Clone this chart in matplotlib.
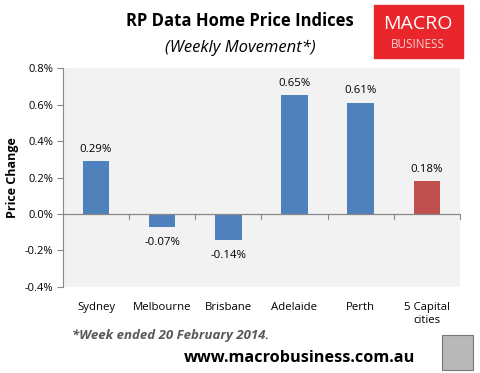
import matplotlib
matplotlib.use("Agg")
import matplotlib.pyplot as plt
from matplotlib.patches import Rectangle
from matplotlib.ticker import FuncFormatter

cities = ["Sydney", "Melbourne", "Brisbane", "Adelaide", "Perth", "5 Capital\ncities"]
changes = [0.29, -0.07, -0.14, 0.65, 0.61, 0.18]
labels = ["0.29%", "-0.07%", "-0.14%", "0.65%", "0.61%", "0.18%"]
colors = ["#4f81bd"] * 5 + ["#c0504d"]

plt.rcParams["font.family"] = ["Open Sans", "DejaVu Sans"]

fig = plt.figure(figsize=(4.8, 3.73), dpi=100)
ax = fig.add_axes([0.131, 0.2306, 0.827, 0.587])
ax.set_facecolor("#f2f2f2")

x = list(range(len(cities)))
ax.bar(x, changes, width=0.4, color=colors, zorder=2)

for xi, v, lab in zip(x, changes, labels):
    if v >= 0:
        ax.text(xi, v + 0.065, lab, ha="center", va="center", fontsize=8.2)
    else:
        ax.text(xi, v - 0.088, lab, ha="center", va="center", fontsize=8.2)

ax.set_xlim(-0.5, 5.5)
ax.set_ylim(-0.4, 0.8)
ax.set_yticks([-0.4, -0.2, 0.0, 0.2, 0.4, 0.6, 0.8])
ax.yaxis.set_major_formatter(FuncFormatter(lambda v, p: f"{v:.1f}%"))
ax.tick_params(axis="y", labelsize=8, length=4, color="#888888", pad=3)

# category axis drawn at zero
ax.axhline(0, color="#888888", lw=0.9, zorder=3)
for b in [0.5, 1.5, 2.5, 3.5, 4.5, 5.5]:
    ax.plot([b, b], [0, -0.025], color="#888888", lw=0.8, zorder=3, clip_on=False)
ax.set_xticks(x)
ax.set_xticklabels(cities, fontsize=8.2)
ax.tick_params(axis="x", length=0, pad=11)

for s in ["top", "right", "bottom"]:
    ax.spines[s].set_visible(False)
ax.spines["left"].set_color("#888888")

ax.set_ylabel("Price Change", fontsize=9, fontweight="bold", labelpad=4)

fig.text(0.5, 0.945, "RP Data Home Price Indices", ha="center", va="center",
         fontsize=12, fontweight="bold")
fig.text(0.5, 0.873, "(Weekly Movement*)", ha="center", va="center",
         fontsize=12, style="italic")

# logo
fig.patches.append(Rectangle((374 / 480, 1 - 58 / 373), 89 / 480, 53 / 373,
                             transform=fig.transFigure, color="#e8262b"))
fig.text(418 / 480, 1 - 24 / 373, "MACRO", ha="center", va="center",
         color="white", fontsize=14)
fig.text(418 / 480, 1 - 44 / 373, "BUSINESS", ha="center", va="center",
         color="#f7d0d0", fontsize=8.5)

fig.text(72 / 480, 1 - 336 / 373, "*Week ended 20 February 2014.", ha="left",
         va="center", fontsize=9.5, fontweight="bold", style="italic", color="#595959")
fig.text(300 / 480, 1 - 358 / 373, "www.macrobusiness.com.au", ha="center",
         va="center", fontsize=11.7, fontweight="bold")

fig.patches.append(Rectangle((442 / 480, 1 - 370 / 373), 31 / 480, 35 / 373,
                             transform=fig.transFigure, facecolor="#b8b8b8",
                             edgecolor="#777777", lw=0.8))

fig.savefig("out.png", dpi=100)
